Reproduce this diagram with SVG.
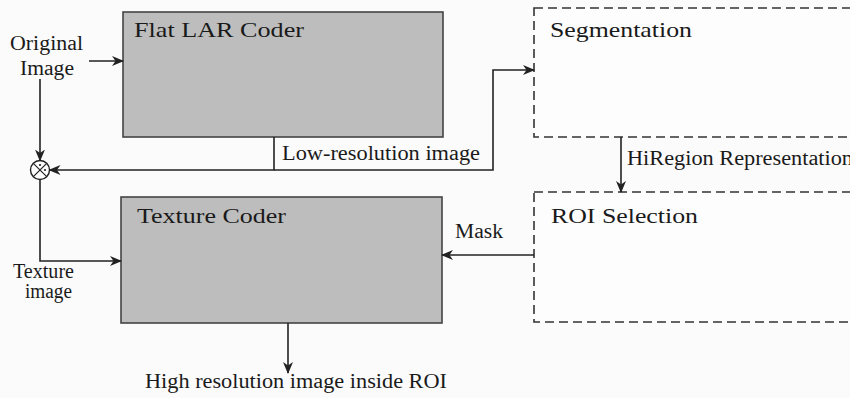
<svg xmlns="http://www.w3.org/2000/svg" width="850" height="398" viewBox="0 0 850 398">
<defs>
<style>
.bg{fill:#fbfbfb}
.solid{fill:#bdbdbd;stroke:#444;stroke-width:1.6}
.dash{fill:#fdfdfd;stroke:#333;stroke-width:1.6;stroke-dasharray:9 5}
.t{font-family:"Liberation Serif","Times New Roman",serif;fill:#1a1a1a}
.title{font-size:22px}
.lab{font-size:20px}
.ln{fill:none;stroke:#222;stroke-width:1.6}
</style>
<marker id="ah" viewBox="0 0 12 10" refX="11" refY="5" markerWidth="12" markerHeight="10" markerUnits="userSpaceOnUse" orient="auto">
<path d="M0,0 L12,5 L0,10 L3.5,5 Z" fill="#222"/>
</marker>
</defs>
<rect class="bg" x="0" y="0" width="850" height="398"/>

<g id="flat-lar-coder">
<rect class="solid" x="123" y="12" width="320" height="125"/>
<text class="t title" x="134" y="37" textLength="170" lengthAdjust="spacingAndGlyphs">Flat LAR Coder</text>
</g>

<g id="texture-coder">
<rect class="solid" x="121" y="197" width="321" height="126"/>
<text class="t title" x="137" y="223" textLength="149" lengthAdjust="spacingAndGlyphs">Texture Coder</text>
</g>

<g id="segmentation">
<rect class="dash" x="534" y="8" width="330" height="129"/>
<text class="t title" x="550" y="37" textLength="142" lengthAdjust="spacingAndGlyphs">Segmentation</text>
</g>

<g id="roi-selection">
<rect class="dash" x="534" y="192" width="330" height="130"/>
<text class="t title" x="551" y="223" textLength="147" lengthAdjust="spacingAndGlyphs">ROI Selection</text>
</g>

<g id="multiplier">
<circle cx="40" cy="170" r="9.5" fill="#fdfdfd" stroke="#222" stroke-width="1.4"/>
<path d="M33.3,163.3 L46.7,176.7 M46.7,163.3 L33.3,176.7" stroke="#222" stroke-width="1.2"/>
<circle cx="40" cy="165" r="1.1" fill="#222"/>
<circle cx="45" cy="170" r="1.1" fill="#222"/>
</g>

<g id="connectors">
<path class="ln" d="M89,61 L123,61" marker-end="url(#ah)"/>
<path class="ln" d="M40,79 L40,160.5" marker-end="url(#ah)"/>
<path class="ln" d="M274,137 L274,170 L49.5,170" marker-end="url(#ah)"/>
<path class="ln" d="M274,170 L493,170 L493,70 L534,70" marker-end="url(#ah)"/>
<path class="ln" d="M621,137 L621,192" marker-end="url(#ah)"/>
<path class="ln" d="M534,255 L442,255" marker-end="url(#ah)"/>
<path class="ln" d="M40,179.5 L40,261 L121,261" marker-end="url(#ah)"/>
<path class="ln" d="M288,323 L288,373" marker-end="url(#ah)"/>
</g>

<g id="labels">
<text class="t lab" x="10" y="50" textLength="73" lengthAdjust="spacingAndGlyphs">Original</text>
<text class="t lab" x="20" y="75" textLength="54" lengthAdjust="spacingAndGlyphs">Image</text>
<text class="t lab" x="282" y="160" textLength="198" lengthAdjust="spacingAndGlyphs">Low-resolution image</text>
<text class="t lab" x="627" y="165" textLength="226" lengthAdjust="spacingAndGlyphs">HiRegion Representation</text>
<text class="t lab" x="455" y="238" textLength="48" lengthAdjust="spacingAndGlyphs">Mask</text>
<text class="t lab" x="13" y="278" textLength="61" lengthAdjust="spacingAndGlyphs">Texture</text>
<text class="t lab" x="25" y="298" textLength="47" lengthAdjust="spacingAndGlyphs">image</text>
<text class="t lab" x="145" y="388" textLength="302" lengthAdjust="spacingAndGlyphs">High resolution image inside ROI</text>
</g>
</svg>
